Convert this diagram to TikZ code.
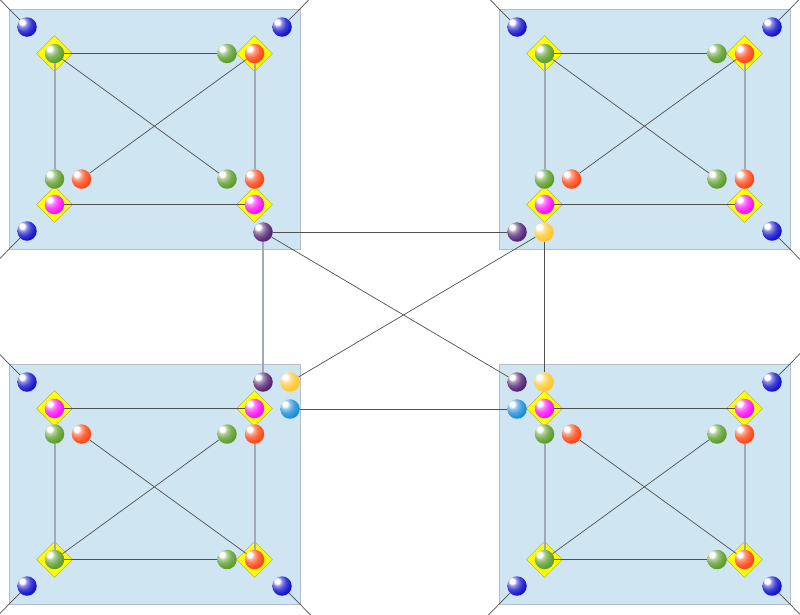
\documentclass[tikz,border=0pt]{standalone}
\usetikzlibrary{shapes.geometric}

\definecolor{panelfill}{RGB}{207,229,242}
\definecolor{panelline}{RGB}{180,190,200}
\definecolor{padfill}{RGB}{255,255,0}
\definecolor{padline}{RGB}{168,160,80}
\definecolor{wireline}{RGB}{80,80,80}
\definecolor{busline}{RGB}{160,170,180}
\definecolor{deep}{RGB}{20,20,205}
\definecolor{leaf}{RGB}{95,158,45}
\definecolor{ember}{RGB}{255,72,22}
\definecolor{pink}{RGB}{255,15,255}
\definecolor{plum}{RGB}{85,38,118}
\definecolor{gold}{RGB}{255,200,45}
\definecolor{sky}{RGB}{28,142,215}
\colorlet{beadcol}{leaf}

% glossy bead shading, follows the colour beadcol
\pgfdeclareradialshading[beadcol]{bead}{\pgfpoint{-14bp}{14bp}}{%
    color(0bp)=(white); color(7bp)=(white);
    color(11bp)=(beadcol!45!white); color(20bp)=(beadcol!80!white);
    color(30bp)=(beadcol); color(55bp)=(beadcol!85!black);
    color(70bp)=(beadcol!70!black)}

\pgfdeclarelayer{back}
\pgfdeclarelayer{wires}
\pgfsetlayers{back,wires,main}

\begin{document}
\begin{tikzpicture}[
        x=1pt, y=-1pt,
        panel/.style={draw=panelline, fill=panelfill, minimum width=291pt, minimum height=240pt, inner sep=0pt},
        pad/.style={draw=padline, fill=padfill, diamond, minimum size=36pt, inner sep=0pt},
        bead/.style={circle, inner sep=0pt, minimum size=19.5pt, /utils/exec={\colorlet{beadcol}{#1}}, shading=bead},
        wire/.style={draw=wireline, line width=0.7pt},
        bus/.style={draw=busline, line width=2pt}
    ]

    \useasboundingbox (0,0) rectangle (800,614);

    % Panels
    \foreach \p/\cx/\cy/\h/\s in {tl/154.5/129/1/1, tr/644.5/129/-1/1, bl/154.5/484/1/-1, br/644.5/484/-1/-1} {
        \begin{pgfonlayer}{back}
        \node[panel] (\p) at (\cx,\cy) {};
        \node[pad] (\p-pad1) at ({\cx-100},{\cy-75.5*\s}) {};
        \node[pad] (\p-pad2) at ({\cx+100},{\cy-75.5*\s}) {};
        \node[pad] (\p-pad3) at ({\cx-100},{\cy+75.5*\s}) {};
        \node[pad] (\p-pad4) at ({\cx+100},{\cy+75.5*\s}) {};
        \end{pgfonlayer}

        \node[bead=leaf] (\p-g1) at ({\cx-100},{\cy-75.5*\s}) {};
        \node[bead=leaf] (\p-g2) at ({\cx+72.5},{\cy-75.5*\s}) {};
        \node[bead=ember] (\p-r1) at ({\cx+100},{\cy-75.5*\s}) {};
        \node[bead=leaf] (\p-g3) at ({\cx-100},{\cy+50*\s}) {};
        \node[bead=ember] (\p-r2) at ({\cx-73},{\cy+50*\s}) {};
        \node[bead=leaf] (\p-g4) at ({\cx+72.5},{\cy+50*\s}) {};
        \node[bead=ember] (\p-r3) at ({\cx+100},{\cy+50*\s}) {};
        \node[bead=pink] (\p-m1) at ({\cx-100},{\cy+75.5*\s}) {};
        \node[bead=pink] (\p-m2) at ({\cx+100},{\cy+75.5*\s}) {};

        % corner beads, each with a lead running off the page
        \node[bead=deep] (\p-c1) at ({\cx-(\h)*127.5},{\cy-(\s)*102}) {};
        \node[bead=deep] (\p-c2) at ({\cx+(\h)*127.5},{\cy-(\s)*102}) {};
        \node[bead=deep] (\p-c3) at ({\cx-(\h)*127.5},{\cy+(\s)*102}) {};
        \coordinate (\p-e1) at ({\cx-(\h)*170},{\cy-(\s)*145});
        \coordinate (\p-e2) at ({\cx+(\h)*170},{\cy-(\s)*145});
        \coordinate (\p-e3) at ({\cx-(\h)*170},{\cy+(\s)*145});

        \begin{pgfonlayer}{wires}
        \draw[wire] (\p-g1) -- (\p-g2);
        \draw[wire] (\p-g1) -- (\p-g4);
        \draw[wire] (\p-r1) -- (\p-r2);
        \draw[wire] (\p-m1) -- (\p-m2);
        \draw[bus] (\p-g1) -- (\p-g3);
        \draw[bus] (\p-r1) -- (\p-r3);
        \draw[wire] (\p-c1) -- (\p-e1);
        \draw[wire] (\p-c2) -- (\p-e2);
        \draw[wire] (\p-c3) -- (\p-e3);
        \end{pgfonlayer}
    }

    % Links between panels
    \node[bead=plum] (tl-plum) at (263,232) {};
    \node[bead=plum] (tr-plum) at (517,232) {};
    \node[bead=plum] (bl-plum) at (263,382) {};
    \node[bead=plum] (br-plum) at (517,382) {};
    \node[bead=gold] (tr-gold) at (544,232) {};
    \node[bead=gold] (bl-gold) at (290,382) {};
    \node[bead=gold] (br-gold) at (544,382) {};
    \node[bead=sky] (bl-sky) at (290,409) {};
    \node[bead=sky] (br-sky) at (517,409) {};

    \begin{pgfonlayer}{wires}
    \draw[wire] (tl-plum) -- (tr-plum);
    \draw[bus] (tl-plum) -- (bl-plum);
    \draw[wire] (tl-plum) -- (br-plum);
    \draw[wire] (tr-gold) -- (br-gold);
    \draw[wire] (tr-gold) -- (bl-gold);
    \draw[wire] (bl-sky) -- (br-sky);
    \end{pgfonlayer}

\end{tikzpicture}
\end{document}
